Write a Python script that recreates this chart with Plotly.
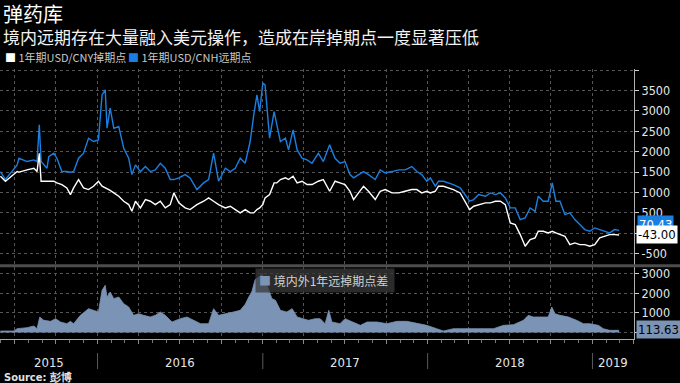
import plotly.graph_objects as go
import pandas as pd

# ---------------- data ----------------
dates_main = [
    "2015-05-31", "2015-06-11", "2015-07-07", "2015-07-11", "2015-07-29", "2015-08-13", "2015-08-20", "2015-08-25", "2015-08-29", "2015-09-11",
    "2015-09-15", "2015-09-26", "2015-10-03", "2015-10-14", "2015-10-25", "2015-11-02", "2015-11-09", "2015-11-20", "2015-12-01", "2015-12-12",
    "2015-12-23", "2016-01-03", "2016-01-11", "2016-01-18", "2016-01-22", "2016-01-29", "2016-02-06", "2016-02-17", "2016-02-28", "2016-03-10",
    "2016-03-17", "2016-03-25", "2016-04-05", "2016-04-16", "2016-04-27", "2016-05-08", "2016-05-19", "2016-05-30", "2016-06-10", "2016-06-18",
    "2016-06-29", "2016-07-13", "2016-07-24", "2016-08-08", "2016-08-23", "2016-09-03", "2016-09-14", "2016-09-25", "2016-10-10", "2016-10-21",
    "2016-11-01", "2016-11-12", "2016-11-23", "2016-12-04", "2016-12-12", "2016-12-19", "2016-12-25", "2017-01-01", "2017-01-06", "2017-01-16",
    "2017-01-26", "2017-02-01", "2017-02-09", "2017-02-20", "2017-02-27", "2017-03-09", "2017-03-18", "2017-03-29", "2017-04-09", "2017-04-20",
    "2017-05-04", "2017-05-15", "2017-05-29", "2017-06-10", "2017-06-21", "2017-07-02", "2017-07-13", "2017-07-21", "2017-08-01", "2017-08-12",
    "2017-08-23", "2017-09-07", "2017-09-18", "2017-09-29", "2017-10-14", "2017-10-29", "2017-11-12", "2017-11-27", "2017-12-08", "2017-12-19",
    "2017-12-30", "2018-01-07", "2018-01-18", "2018-01-25", "2018-02-05", "2018-02-16", "2018-02-27", "2018-03-14", "2018-03-25", "2018-04-04",
    "2018-04-13", "2018-04-24", "2018-05-09", "2018-05-20", "2018-05-31", "2018-06-11", "2018-06-22", "2018-07-03", "2018-07-14", "2018-07-25",
    "2018-08-05", "2018-08-16", "2018-08-27", "2018-09-03", "2018-09-14", "2018-09-25", "2018-10-04", "2018-10-12", "2018-10-21", "2018-11-01",
    "2018-11-12", "2018-11-23", "2018-12-04", "2018-12-15", "2018-12-26", "2019-01-06", "2019-01-17", "2019-01-28", "2019-02-08", "2019-02-19",
    "2019-03-01",
]

# 1年期USD/CNY掉期点 (white)
cny = [
    1400, 1276, 1513, 1500, 1554, 1595, 1513, 1963, 1276, 1276,
    1276, 1276, 1235, 1194, 1112, 948, 1112, 1317, 1112, 1071,
    1153, 1276, 1153, 1112, 1100, 1050, 989, 908, 785, 703,
    539, 785, 621, 826, 785, 703, 785, 621, 703, 989,
    744, 621, 580, 703, 785, 867, 785, 703, 621, 662,
    580, 498, 580, 498, 498, 580, 621, 703, 867, 948,
    1235, 1235, 1317, 1358, 1317, 1399, 1235, 1276, 1194, 1194,
    1276, 1317, 1030, 1276, 1235, 1194, 1030, 826, 989, 1153,
    1030, 826, 1030, 1071, 989, 989, 1030, 1071, 1071, 989,
    1030, 989, 1030, 1153, 1153, 1112, 1071, 989, 785, 580,
    662, 703, 744, 744, 785, 785, 703, 253, 212, -34,
    -320, -156, -115, 48, 48, 7, 48, 7, -34, -74,
    -279, -238, -279, -279, -320, -279, -115, -74, -34, -34,
    -43.00,
]

# 1年期USD/CNH远期点 (blue)
cnh = [
    1510, 1317, 1677, 1840, 1759, 1800, 1759, 2660, 1759, 1595,
    1881, 1963, 1840, 1513, 1513, 1497, 1513, 1840, 1963, 2331,
    2250, 2290, 3395, 3518, 2577, 3068, 2577, 2618, 2086, 1840,
    1439, 1677, 1513, 1636, 1513, 1554, 1718, 1595, 1317, 1317,
    1358, 1439, 1358, 1071, 1235, 1317, 1963, 1276, 1595, 1513,
    1595, 1840, 1718, 2250, 2904, 3395, 2986, 3682, 3641, 2331,
    2986, 2700, 2250, 2331, 2045, 2536, 2045, 1840, 1799, 1718,
    1963, 1759, 2168, 1840, 1718, 1759, 1439, 1358, 1439, 1513,
    1439, 1317, 1554, 1480, 1513, 1554, 1554, 1636, 1513, 1439,
    1276, 1358, 1153, 1276, 1276, 1235, 1194, 1112, 948, 785,
    826, 948, 908, 989, 948, 989, 867, 621, 621, 335,
    376, 621, 539, 908, 785, 785, 1235, 785, 785, 457,
    498, 335, 212, 89, 48, 130, 89, 48, 7, 89,
    70.43,
]

# 境内外1年远掉期点差 (area, lower panel)
spread_dates = [
    "2015-05-31", "2015-06-30", "2015-07-07", "2015-07-29", "2015-08-13", "2015-08-20", "2015-08-26", "2015-09-04", "2015-09-19", "2015-09-30",
    "2015-10-11", "2015-10-25", "2015-11-02", "2015-11-09", "2015-11-24", "2015-12-12", "2015-12-23", "2016-01-03", "2016-01-11", "2016-01-18",
    "2016-01-22", "2016-01-29", "2016-02-06", "2016-02-17", "2016-02-28", "2016-03-10", "2016-03-21", "2016-04-01", "2016-04-12", "2016-04-27",
    "2016-05-08", "2016-05-19", "2016-05-30", "2016-06-14", "2016-07-02", "2016-07-17", "2016-08-01", "2016-08-16", "2016-09-03", "2016-09-14",
    "2016-09-25", "2016-10-14", "2016-10-28", "2016-11-12", "2016-11-23", "2016-12-01", "2016-12-08", "2016-12-15", "2016-12-23", "2016-12-30",
    "2017-01-06", "2017-01-14", "2017-01-21", "2017-01-29", "2017-02-09", "2017-02-23", "2017-03-07", "2017-03-18", "2017-03-29", "2017-04-12",
    "2017-04-27", "2017-05-08", "2017-05-19", "2017-05-27", "2017-06-03", "2017-06-21", "2017-07-02", "2017-07-21", "2017-08-05", "2017-08-20",
    "2017-09-11", "2017-10-03", "2017-10-25", "2017-11-16", "2017-12-08", "2017-12-30", "2018-01-21", "2018-02-05", "2018-02-27", "2018-03-29",
    "2018-04-28", "2018-05-27", "2018-06-18", "2018-07-10", "2018-08-01", "2018-08-12", "2018-08-23", "2018-09-07", "2018-09-25", "2018-10-03",
    "2018-10-10", "2018-10-21", "2018-11-09", "2018-11-27", "2018-12-12", "2018-12-26", "2019-01-14", "2019-01-25", "2019-02-08", "2019-03-01",
]
spread = [
    77, 77, 196, 247, 332, 196, 791, 621, 570, 706,
    536, 451, 570, 451, 876, 1216, 1131, 1046, 2151, 2407,
    1811, 2066, 1726, 1811, 1471, 1301, 876, 961, 876, 791,
    876, 1046, 876, 536, 706, 791, 621, 451, 451, 1216,
    876, 961, 1046, 1131, 1437, 1811, 2100, 2700, 2850, 2950,
    2700, 2150, 1730, 1641, 1131, 1046, 1216, 791, 706, 621,
    706, 706, 451, 1131, 536, 451, 706, 536, 366, 536,
    536, 451, 570, 570, 451, 366, 196, 77, 196, 196,
    230, 196, 366, 400, 621, 876, 791, 791, 791, 1301,
    961, 876, 791, 621, 451, 451, 366, 196, 111, 113.63,
]

year_labels = ["2015", "2016", "2017", "2018", "2019"]
main_ticks = [-500, 0, 500, 1000, 1500, 2000, 2500, 3000, 3500, 4000]
main_ticktext = ["-500", "", "500", "1000", "1500", "2000", "2500", "3000", "3500", ""]
lower_ticks = [0, 1000, 2000, 3000]
lower_ticktext = ["", "1000", "2000", "3000"]

title = "弹药库"
subtitle = "境内远期存在大量融入美元操作，造成在岸掉期点一度显著压低"
name_cny = "1年期USD/CNY掉期点"
name_cnh = "1年期USD/CNH远期点"
name_spread = "境内外1年远掉期点差"

# ---------------- styling ----------------
W, H = 680, 383
ML, MR, MT, MB = 0, 46, 69, 44
PW, PH = W - ML - MR, H - MT - MB
BLUE = "#1a7fe0"
AREA = "#7b93b5"
GRID = "#555555"
CJK = "Noto Sans CJK SC"
NUM = "DejaVu Sans Condensed"
x_range = ["2015-05-30", "2019-04-03"]


def px_x(px):
    return (px - ML) / PW


def px_y(py):
    return (MT + PH - py) / PH


main_dom = [px_y(265), 1.0]
low_dom = [0.0, px_y(267)]

fig = go.Figure()
fig.add_trace(go.Scatter(x=dates_main, y=cnh, mode="lines", name=name_cnh,
                         line=dict(color=BLUE, width=1.4), xaxis="x", yaxis="y"))
fig.add_trace(go.Scatter(x=dates_main, y=cny, mode="lines", name=name_cny,
                         line=dict(color="#ffffff", width=1.4), xaxis="x", yaxis="y"))
fig.add_trace(go.Scatter(x=spread_dates, y=spread, mode="lines", name=name_spread,
                         fill="tozeroy", fillcolor=AREA,
                         line=dict(color=AREA, width=0.8), xaxis="x2", yaxis="y2"))

common_x = dict(range=x_range, type="date", dtick="M3", tick0="2015-01-01",
                showgrid=True, gridcolor=GRID, griddash="dot", gridwidth=1,
                zeroline=False, showticklabels=False)
common_y = dict(side="right", showgrid=True, gridcolor=GRID, griddash="dot",
                gridwidth=1, zeroline=False, showline=True, linecolor="#b0b0b0",
                linewidth=1, ticks="outside", ticklen=4, tickcolor="#d0d0d0",
                tickfont=dict(family=NUM, size=12.5, color="#e6e6e6"))

fig.update_layout(
    width=W, height=H,
    margin=dict(l=ML, r=MR, t=MT, b=MB),
    paper_bgcolor="#000000", plot_bgcolor="#000000",
    showlegend=False,
    xaxis=dict(domain=[0, 1], anchor="y", matches="x2", ticks="", **common_x),
    xaxis2=dict(domain=[0, 1], anchor="y2", ticks="outside", ticklen=4,
                tickcolor="#888888", showline=True, linecolor="#aaaaaa", linewidth=1,
                minor=dict(dtick="M1", ticks="outside", ticklen=3,
                           tickcolor="#777777", showgrid=False),
                **common_x),
    yaxis=dict(domain=main_dom, anchor="x", range=[-780, 4030],
               tickmode="array", tickvals=main_ticks, ticktext=main_ticktext, **common_y),
    yaxis2=dict(domain=low_dom, anchor="x2", range=[-330, 3340],
                tickmode="array", tickvals=lower_ticks, ticktext=lower_ticktext, **common_y),
)

ann = []
ann.append(dict(x=px_x(1), y=px_y(14), text=title, showarrow=False,
                xanchor="left", yanchor="middle", xref="paper", yref="paper",
                font=dict(family=CJK, size=20, color="#ffffff")))
ann.append(dict(x=px_x(1), y=px_y(36), text=subtitle, showarrow=False,
                xanchor="left", yanchor="middle", xref="paper", yref="paper",
                font=dict(family=CJK, size=17, color="#f2f2f2")))
ann.append(dict(x=px_x(3), y=px_y(57),
                text="<span style='color:#ffffff'>■</span> " + name_cny,
                showarrow=False, xanchor="left", yanchor="middle", xref="paper", yref="paper",
                font=dict(family=CJK, size=11, color="#c8c8c8")))
ann.append(dict(x=px_x(126), y=px_y(57),
                text="<span style='color:" + BLUE + "'>■</span> " + name_cnh,
                showarrow=False, xanchor="left", yanchor="middle", xref="paper", yref="paper",
                font=dict(family=CJK, size=11, color="#c8c8c8")))
ann.append(dict(x=px_x(255), y=px_y(280),
                text="<span style='color:" + AREA + "'>■</span> " + name_spread + " ",
                showarrow=False, xanchor="left", yanchor="middle", xref="paper", yref="paper",
                bgcolor="rgba(58,58,58,0.75)", borderpad=3,
                font=dict(family=CJK, size=12, color="#d0d0d0")))

# last-value labels on the right
ann.append(dict(x=1, y=cnh[-1], xref="paper", yref="y", xanchor="left", yanchor="middle",
                xshift=3, yshift=6, text=f"{cnh[-1]:.2f}", showarrow=False,
                bgcolor=BLUE, borderpad=1, font=dict(family=NUM, size=13, color="#ffffff")))
ann.append(dict(x=1, y=cny[-1], xref="paper", yref="y", xanchor="left", yanchor="middle",
                xshift=2, text=f"{cny[-1]:.2f}", showarrow=False,
                bgcolor="#ffffff", borderpad=1, font=dict(family=NUM, size=13, color="#000000")))
ann.append(dict(x=1, y=spread[-1], xref="paper", yref="y2", xanchor="left", yanchor="middle",
                xshift=2, yshift=1, text=f"{spread[-1]:.2f}", showarrow=False,
                bgcolor=AREA, borderpad=1, font=dict(family=NUM, size=13, color="#000000")))

# year labels centred in their visible span
r0, r1 = pd.Timestamp(x_range[0]), pd.Timestamp(x_range[1])
shapes = []
for yl in year_labels:
    a = max(r0, pd.Timestamp(yl + "-01-01"))
    b = min(r1, pd.Timestamp(str(int(yl) + 1) + "-01-01"))
    mid = a + (b - a) / 2
    ann.append(dict(x=mid, y=px_y(362), xref="x2", yref="paper", text=yl, showarrow=False,
                    xanchor="center", yanchor="middle",
                    font=dict(family=NUM, size=13, color="#e6e6e6")))
    if pd.Timestamp(yl + "-01-01") > r0:
        shapes.append(dict(type="line", xref="x2", yref="paper",
                           x0=yl + "-01-01", x1=yl + "-01-01",
                           y0=px_y(353), y1=px_y(369),
                           line=dict(color="#5a5a5a", width=1)))

ann.append(dict(x=px_x(2), y=px_y(377), xref="paper", yref="paper", showarrow=False,
                xanchor="left", yanchor="middle",
                text="<b>Source:</b> <b>彭博</b>",
                font=dict(family=NUM, size=11, color="#e0e0e0")))

# separator between panels
shapes.append(dict(type="line", xref="paper", yref="paper", x0=0, x1=W / PW,
                   y0=px_y(265.8), y1=px_y(265.8), line=dict(color="#4d4d4d", width=3)))

fig.update_layout(annotations=ann, shapes=shapes)
fig.write_html("out.html",
               config={"displayModeBar": False},
               post_script="document.body.style.margin='0';document.body.style.padding='0';"
                           "document.body.style.background='#000';")
